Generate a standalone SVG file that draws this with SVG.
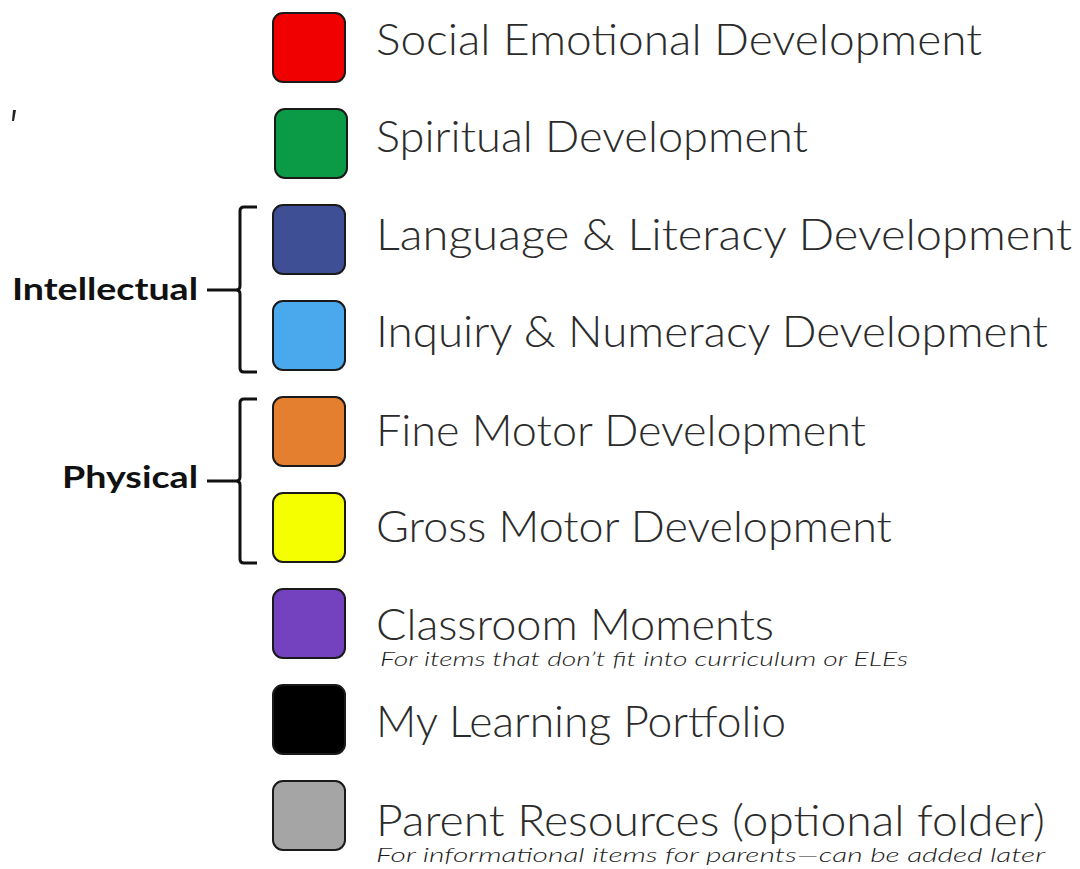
<svg xmlns="http://www.w3.org/2000/svg" width="1080" height="869" viewBox="0 0 1080 869">
<style>
.sw{stroke:#1a1a1a;stroke-width:2}
.t{font-family:Lato,"Liberation Sans",sans-serif;font-weight:300;font-size:43px;fill:#2b2b2b}
.s{font-family:Lato,"Liberation Sans",sans-serif;font-weight:300;font-style:italic;font-size:19px;fill:#1a1a1a}
.g{font-family:Lato,"Liberation Sans",sans-serif;font-weight:700;font-size:30px;fill:#111}
.br{fill:none;stroke:#111;stroke-width:3}
</style>
<rect width="1080" height="869" fill="#fff"/>
<path d="M13 110 L16 110 L14 121 L12 121 Z" fill="#222"/>
<g id="n1"><rect class="sw" x="273" y="13" width="72" height="69" rx="10" fill="#f00000"/><text class="t" x="376" y="55" textLength="606" lengthAdjust="spacingAndGlyphs">Social Emotional Development</text></g>
<g id="n2"><rect class="sw" x="275" y="109" width="72" height="69" rx="10" fill="#0b9a46"/><text class="t" x="376" y="152" textLength="432" lengthAdjust="spacingAndGlyphs">Spiritual Development</text></g>
<g id="n3"><rect class="sw" x="273" y="205" width="72" height="69" rx="10" fill="#3f4f96"/><text class="t" x="376" y="250" textLength="696" lengthAdjust="spacingAndGlyphs">Language &amp; Literacy Development</text></g>
<g id="n4"><rect class="sw" x="273" y="301" width="72" height="69" rx="10" fill="#4aa8ec"/><text class="t" x="376" y="347" textLength="672" lengthAdjust="spacingAndGlyphs">Inquiry &amp; Numeracy Development</text></g>
<g id="n5"><rect class="sw" x="273" y="397" width="72" height="69" rx="10" fill="#e47f30"/><text class="t" x="376" y="446" textLength="490" lengthAdjust="spacingAndGlyphs">Fine Motor Development</text></g>
<g id="n6"><rect class="sw" x="273" y="493" width="72" height="69" rx="10" fill="#f6ff00"/><text class="t" x="376" y="542" textLength="516" lengthAdjust="spacingAndGlyphs">Gross Motor Development</text></g>
<g id="n7"><rect class="sw" x="273" y="589" width="72" height="69" rx="10" fill="#7542bf"/><text class="t" x="376" y="640" textLength="398" lengthAdjust="spacingAndGlyphs">Classroom Moments</text><text class="s" x="380" y="666" textLength="528" lengthAdjust="spacingAndGlyphs">For items that don’t fit into curriculum or ELEs</text></g>
<g id="n8"><rect class="sw" x="273" y="685" width="72" height="69" rx="10" fill="#000"/><text class="t" x="376" y="737" textLength="410" lengthAdjust="spacingAndGlyphs">My Learning Portfolio</text></g>
<g id="n9"><rect class="sw" x="273" y="781" width="72" height="69" rx="10" fill="#a5a5a5"/><text class="t" x="376" y="836" textLength="669" lengthAdjust="spacingAndGlyphs">Parent Resources (optional folder)</text><text class="s" x="376" y="862" textLength="669" lengthAdjust="spacingAndGlyphs">For informational items for parents—can be added later</text></g>
<g id="intellectual"><text class="g" x="12" y="300" textLength="186" lengthAdjust="spacingAndGlyphs">Intellectual</text></g>
<g id="physical"><text class="g" x="62" y="488" textLength="136" lengthAdjust="spacingAndGlyphs">Physical</text></g>
<g id="connectors">
<path class="br" d="M257 207 L244 207 Q240 207 240 211 L240 286 Q240 290 236 290 L207 290 M236 290 Q240 290 240 294 L240 368 Q240 372 244 372 L257 372"/>
<path class="br" d="M257 399 L244 399 Q240 399 240 403 L240 477 Q240 481 236 481 L207 481 M236 481 Q240 481 240 485 L240 559 Q240 563 244 563 L257 563"/>
</g>
</svg>
